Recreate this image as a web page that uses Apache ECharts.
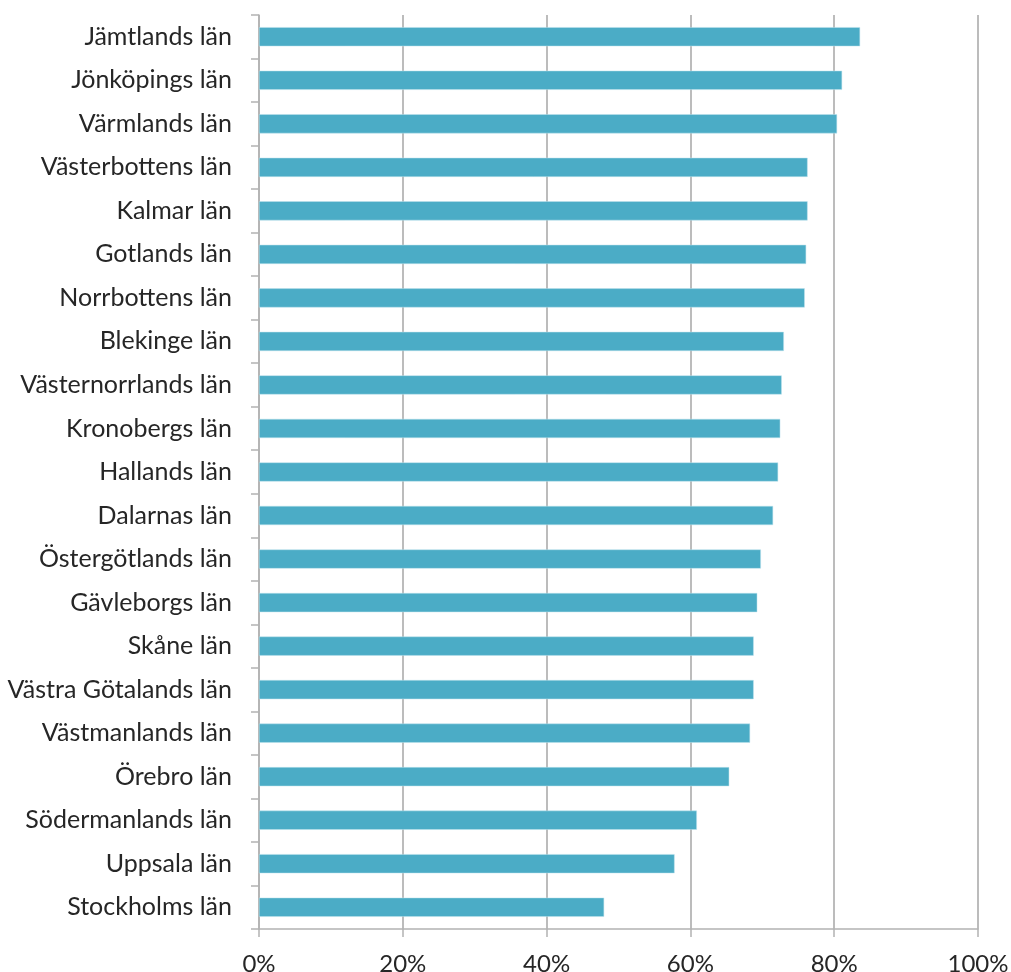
<!DOCTYPE html>
<html><head><meta charset="utf-8">
<script src="https://cdn.jsdelivr.net/npm/echarts@6/dist/echarts.min.js"></script>
<style>html,body{margin:0;padding:0;background:#fff}#c{width:1011px;height:972px}</style>
</head><body><div id="c"></div>
<script>
const categories = ["Jämtlands län","Jönköpings län","Värmlands län","Västerbottens län","Kalmar län","Gotlands län","Norrbottens län","Blekinge län","Västernorrlands län","Kronobergs län","Hallands län","Dalarnas län","Östergötlands län","Gävleborgs län","Skåne län","Västra Götalands län","Västmanlands län","Örebro län","Södermanlands län","Uppsala län","Stockholms län"];
const values = [83.6,81.1,80.4,76.3,76.3,76.1,75.9,73.0,72.7,72.5,72.2,71.5,69.8,69.3,68.8,68.8,68.3,65.4,60.9,57.8,48.0];
const xTicks = [0,20,40,60,80,100];

const font = "Lato, 'Open Sans', sans-serif";
const chart = echarts.init(document.getElementById('c'), null, {renderer:'canvas'});
chart.setOption({
  animation:false,
  grid:{left:259,right:33,top:15,bottom:43,containLabel:false,outerBoundsMode:'none'},
  xAxis:{type:'value',min:xTicks[0],max:xTicks[xTicks.length-1],interval:20,
    axisLine:{show:true,lineStyle:{color:'#b3b3b3',width:1.5}},
    axisTick:{show:true,length:8,lineStyle:{color:'#b3b3b3',width:1.5}},
    splitLine:{show:true,lineStyle:{color:'#a6a6a6',width:1.5}},
    axisLabel:{formatter:v=>v+'%',fontSize:24,color:'#262626',fontFamily:font,margin:23}},
  yAxis:{type:'category',data:categories,inverse:true,
    axisLine:{show:true,lineStyle:{color:'#b3b3b3',width:1.5}},
    axisTick:{show:true,length:8,lineStyle:{color:'#b3b3b3',width:1.5}},
    axisLabel:{fontSize:25,color:'#262626',fontFamily:font,margin:27}},
  series:[{type:'bar',data:values,barWidth:'44%',
    itemStyle:{color:'#4bacc6',borderColor:'#bfe3ec',borderWidth:0.5}}]
});
</script></body></html>
